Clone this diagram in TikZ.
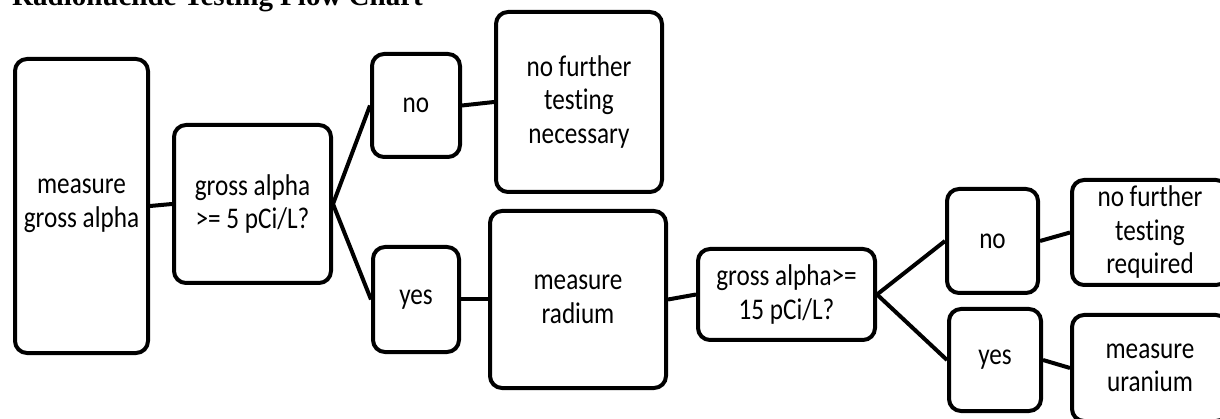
\documentclass[tikz,border=0pt]{standalone}
\usepackage{fontspec}
\setmainfont{Carlito}[FakeStretch=0.84, Ligatures=NoCommon]
\newfontfamily\titlefont{Liberation Serif}
\usepackage{tikz}

\begin{document}
\begin{tikzpicture}[x=1pt, y=-1pt,
        box/.style={draw, line width=4pt, rounded corners=12pt, align=center, inner sep=0pt,
            font=\fontsize{30}{33.5}\selectfont}]
            \useasboundingbox (0,0) rectangle (1220,419);
            \node at (12,6) [anchor=base west, inner sep=0pt, font=\titlefont\bfseries\fontsize{29}{34}\selectfont] (title) {Radionuclide Testing Flow Chart};
            \node at (81.5,206) [box, minimum width=133pt, minimum height=294pt] (ga) {measure\\gross alpha};
            \node at (252.5,204) [box, minimum width=157pt, minimum height=158pt] (q5) {gross alpha\\>= 5 pCi/L?};
            \node at (416,105.5) [box, minimum width=88pt, minimum height=103pt] (no1) {no};
            \node at (579,102) [box, minimum width=166pt, minimum height=180pt] (nf1) {no further\\testing\\necessary};
            \node at (416,299.5) [box, minimum width=86pt, minimum height=105pt] (yes1) {yes};
            \node at (578,299.5) [box, minimum width=176pt, minimum height=177pt] (ra) {measure\\radium};
            \node at (786.5,294.5) [box, minimum width=177pt, minimum height=91pt] (q15) {gross alpha>=\\15 pCi/L?};
            \node at (992.5,241) [box, minimum width=91pt, minimum height=104pt] (no2) {no};
            \node at (995,360) [box, minimum width=92pt, minimum height=102pt] (yes2) {yes};
            \node at (1150,232.5) [box, minimum width=156pt, minimum height=105pt] (nf2) {no further\\testing\\required};
            \node at (1150,368) [box, minimum width=156pt, minimum height=106pt] (ur) {measure\\uranium};
            % links
            \draw[line width=4pt] (ga.east) -- (q5.west);
            \draw[line width=4pt] (q5.east) -- (no1.west);
            \draw[line width=4pt] (q5.east) -- (yes1.west);
            \draw[line width=4pt] (no1.east) -- (nf1.west);
            \draw[line width=4pt] (yes1.east) -- (ra.west);
            \draw[line width=4pt] (ra.east) -- (q15.west);
            \draw[line width=4pt] (q15.east) -- (no2.west);
            \draw[line width=4pt] (q15.east) -- (yes2.west);
            \draw[line width=4pt] (no2.east) -- (nf2.west);
            \draw[line width=4pt] (yes2.east) -- (ur.west);
\end{tikzpicture}
\end{document}
